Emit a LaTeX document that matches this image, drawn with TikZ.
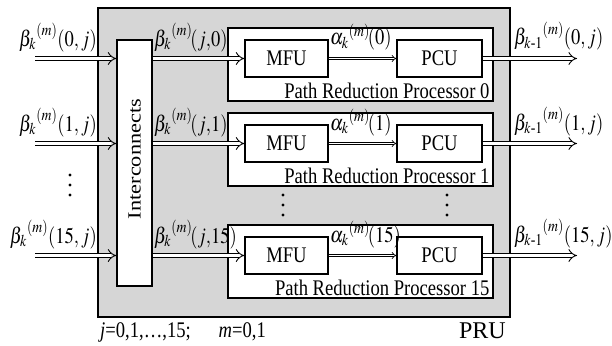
\documentclass[tikz,border=0pt]{standalone}
\usepackage{amsmath}
\usepackage{mathptmx}
\usepackage{graphicx}
\usepackage{fontspec}
\setmainfont{Liberation Serif}
\usetikzlibrary{arrows.meta}
\newcommand\tall[1]{\scalebox{1}[1.2]{#1}}

\begin{document}
\begin{tikzpicture}[x=1pt,y=-1pt,font=\fontsize{18.6}{20}\selectfont,
box/.style={draw,line width=1.2pt,inner sep=0pt},
bus/.style={double,line width=.9pt,double distance=3.6pt,-{Implies}},
link/.style={double,line width=.7pt,double distance=1.6pt,-{Implies}},
lbl/.style={inner sep=0pt}]
\useasboundingbox (0,0) rectangle (612,345);
% PRU frame and interconnect
\node[box,line width=1.6pt,fill=black!16,minimum width=412pt,minimum height=309pt] (pru) at (304,162.5) {};
\node[box,fill=white,minimum width=35pt,minimum height=246pt] (ic) at (134.5,163) {};
\node[rotate=90] (iclabel) at ([yshift=4pt]ic) {\scalebox{1.2}[1]{Interconnects}};
% processors 0, 1 and 15
\foreach \i/\d/\n in {0/0/0,1/85/1,2/197/15}{
  \node[box,fill=white,minimum width=265pt,minimum height=73pt] (prp\i) at (360.5,64.5+\d) {};
  \node[lbl,anchor=south east] (prpl\i) at ([xshift=-4pt,yshift=3pt]prp\i.south east) {\tall{Path Reduction Processor \n}};
  \node[box,minimum width=83pt,minimum height=37pt] (mfu\i) at (286.5,58.5+\d) {\tall{MFU}};
  \node[box,minimum width=85pt,minimum height=37pt] (pcu\i) at (439.5,58.5+\d) {\tall{PCU}};
  \coordinate (src\i) at (35,58.5+\d);
  \coordinate (dst\i) at (577,58.5+\d);
  \draw[bus] (src\i) -- (src\i -| ic.west);
  \draw[bus] (src\i -| ic.east) -- (mfu\i.west);
  \draw[link] (mfu\i) -- (pcu\i);
  \draw[bus] (pcu\i) -- (dst\i);
  \node[lbl,anchor=base east] (inl\i) at (97,46+\d) {\tall{${\beta_k}^{(m)}(\n,j)$}};
  \node[lbl,anchor=base west] (midl\i) at (154,46+\d) {\tall{${\beta_k}^{(m)}\!(j{,}\n)$}};
  \node[lbl,anchor=base west] (al\i) at (330,45+\d) {\tall{${\alpha_k}^{(m)}\!(\n)$}};
  \node[lbl,anchor=base west] (outl\i) at (514,45+\d) {\tall{${\beta_{k\text{-}1}}^{(m)}(\n,j)$}};
}
% dots
\foreach \y in {175,185,195} \fill (70,\y) circle (1.6pt);
\foreach \y in {195,205,215} {\fill (283,\y) circle (1.6pt); \fill (447,\y) circle (1.6pt);}
\node[lbl,anchor=base west] (idx) at (100,337) {\tall{\textit{j}=0,1,\ldots,15;\quad\ \ \textit{m}=0,1}};
\node[lbl,anchor=base east,font=\fontsize{24}{26}\selectfont] (prul) at (506,338) {PRU};
\end{tikzpicture}
\end{document}
